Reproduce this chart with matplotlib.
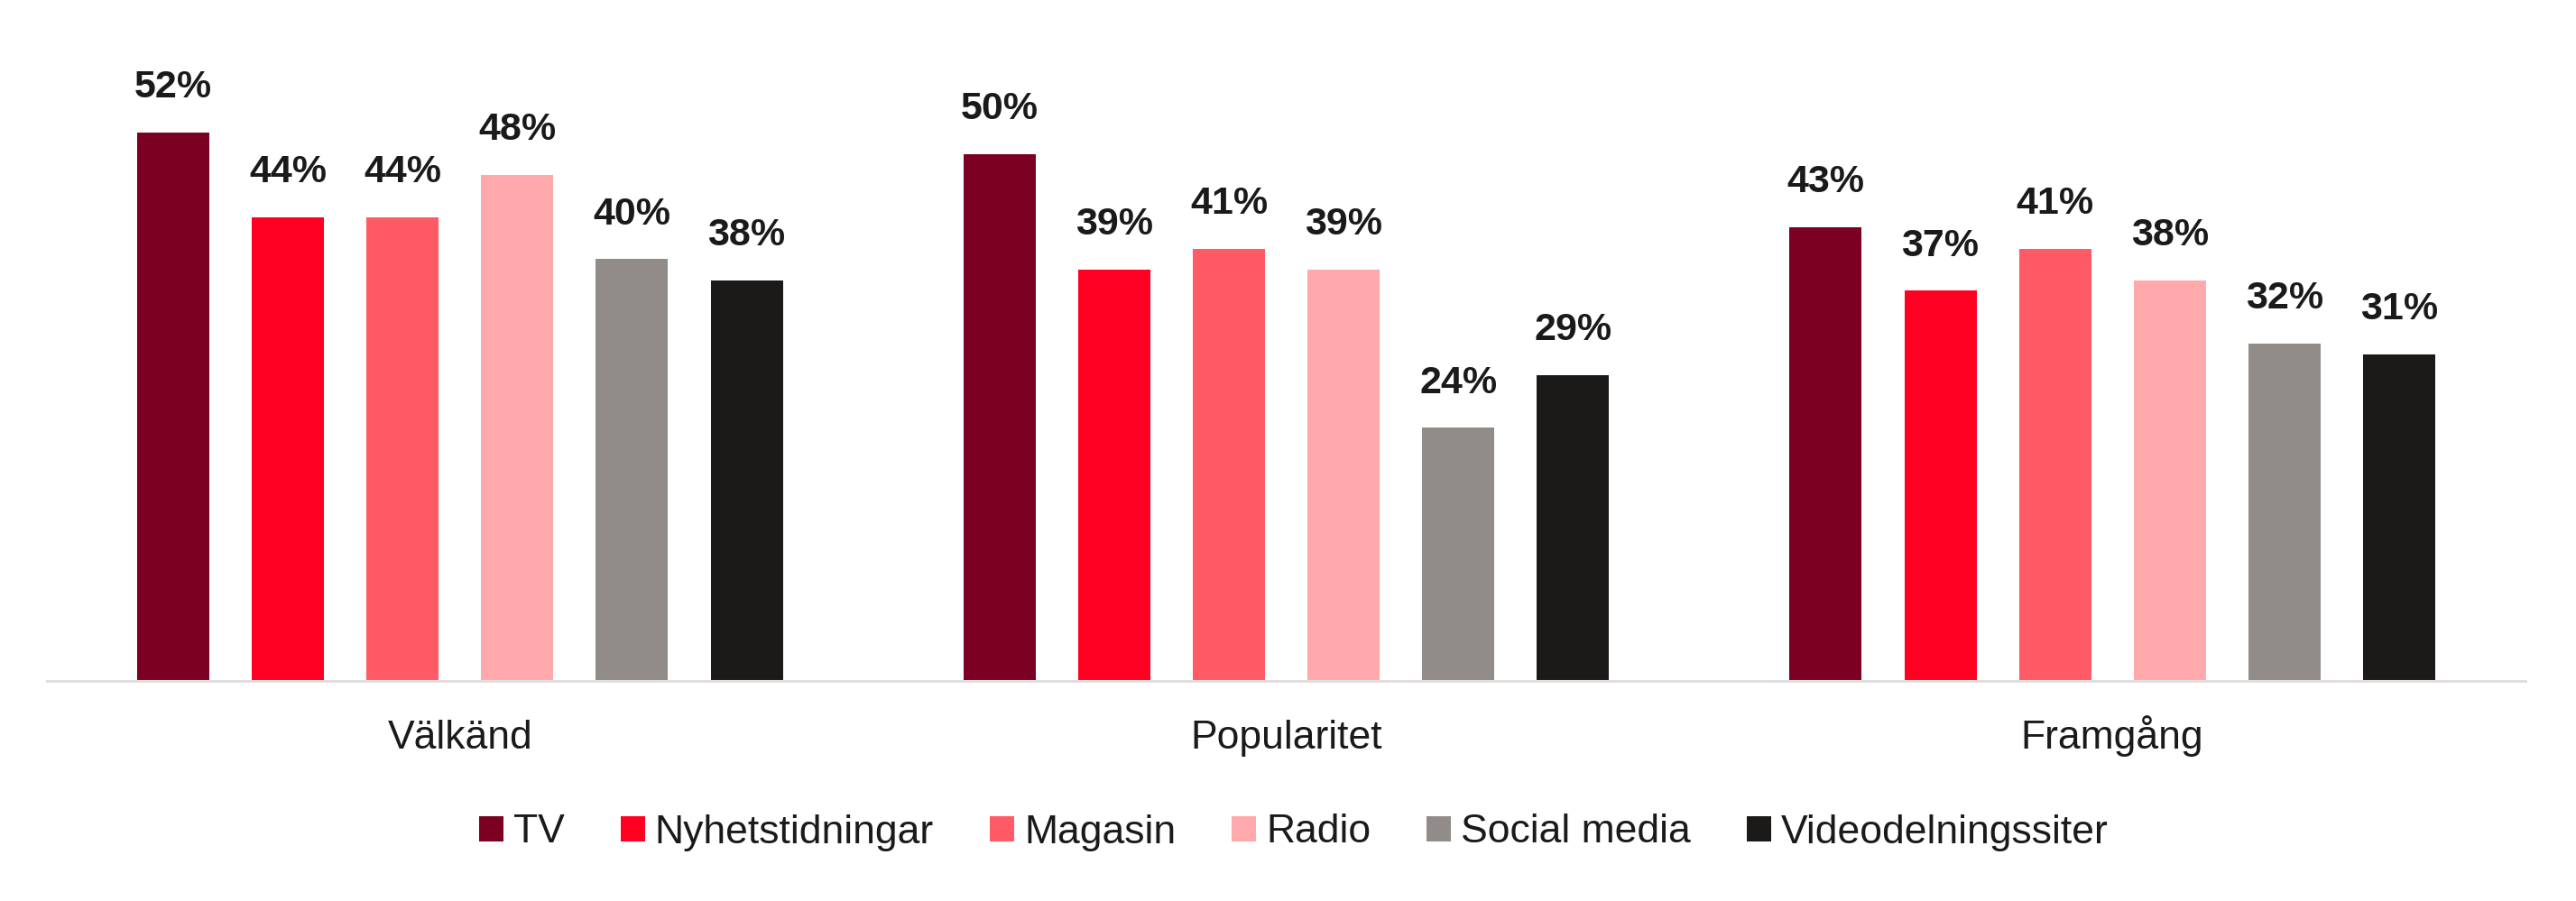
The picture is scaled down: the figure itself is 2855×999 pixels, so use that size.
import matplotlib
matplotlib.use("Agg")
import matplotlib.pyplot as plt
import numpy as np
from matplotlib.patches import Patch

categories = ["Välkänd", "Popularitet", "Framgång"]
series = ["TV", "Nyhetstidningar", "Magasin", "Radio", "Social media", "Videodelningssiter"]
values = {
    "TV": [52, 50, 43],
    "Nyhetstidningar": [44, 39, 37],
    "Magasin": [44, 41, 41],
    "Radio": [48, 39, 38],
    "Social media": [40, 24, 32],
    "Videodelningssiter": [38, 29, 31],
}
colors = ["#7b0022", "#ff0022", "#ff5a66", "#ffa9ad", "#918c88", "#1c1a19"]

plt.rcParams['font.family'] = ['Liberation Sans', 'DejaVu Sans']
TXT = "#1a1a1a"

fig = plt.figure(figsize=(28.55, 9.99), dpi=100)
ax = fig.add_axes([52/2855, 1-755/999, (2799-52)/2855, (755-30)/999])

x = np.arange(len(categories))
step = 0.1388
width = 0.0874
for i, s in enumerate(series):
    pos = x + (i - 2.5) * step
    bars = ax.bar(pos, values[s], width=width, color=colors[i], zorder=2)
    for p, v in zip(pos, values[s]):
        ax.annotate(f"{v}%", (p, v), xytext=(0, 28), textcoords="offset points",
                    ha="center", va="baseline", fontsize=31, fontweight="bold", color=TXT)

ax.set_xlim(-0.5, 2.5)
ax.set_ylim(0, (755-30)/11.69)
ax.set_xticks(x)
ax.set_xticklabels(categories, fontsize=32, color=TXT)
for lab in ax.get_xticklabels():
    lab.set_va("baseline")
ax.tick_params(axis='x', length=0, pad=54)
ax.set_yticks([])
for sp in ["top", "right", "left"]:
    ax.spines[sp].set_visible(False)
ax.spines["bottom"].set_color("#e2dede")
ax.spines["bottom"].set_linewidth(2.2)

handles = [Patch(facecolor=c, edgecolor='none') for c in colors]
fig.legend(handles, series, loc="center", bbox_to_anchor=(1434/2855, 1-923/999),
           ncol=6, frameon=False, fontsize=32, handlelength=0.6, handleheight=0.6,
           handletextpad=0.25, columnspacing=1.4, labelcolor=TXT)

fig.savefig("out.png", dpi=100, facecolor="white")
